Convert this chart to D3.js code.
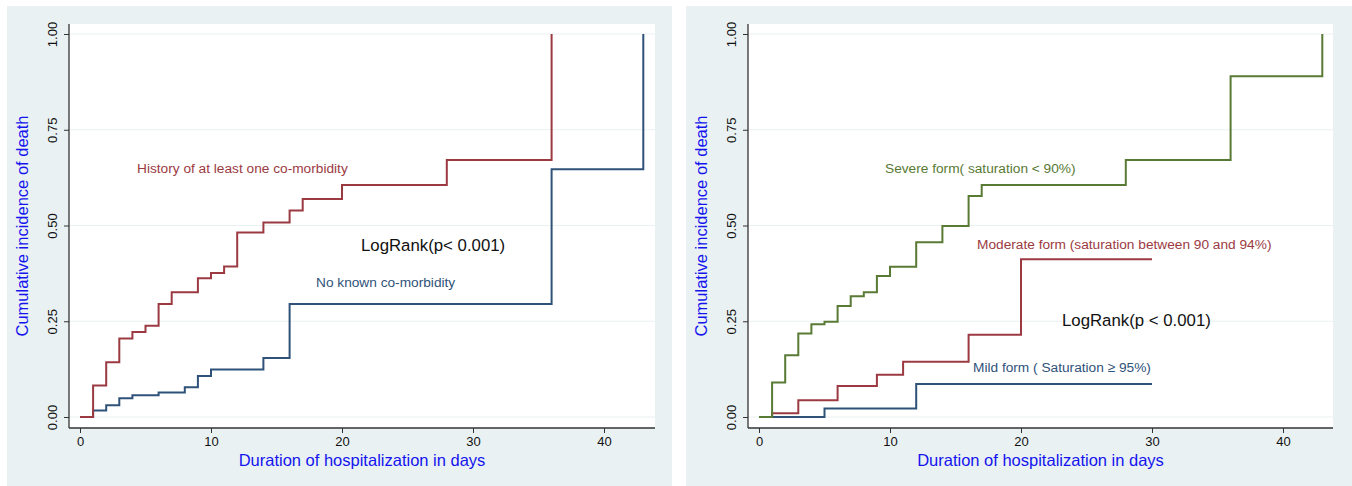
<!DOCTYPE html>
<html>
<head>
<meta charset="utf-8">
<script src="https://cdn.jsdelivr.net/npm/d3@7"></script>
<style>
  body { margin: 0; background: #fff; }
  text { font-family: "Liberation Sans", Arial, sans-serif; }
</style>
</head>
<body>
<svg width="1352" height="486"></svg>
<script>
// left panel: co-morbidity
const comorbidDays = [0, 1, 2, 3, 4, 5, 6, 7, 9, 10, 11, 12, 14, 16, 17, 20, 28, 36];
const comorbidInc = [0, 0.082, 0.143, 0.205, 0.222, 0.238, 0.295, 0.326, 0.362, 0.376, 0.393, 0.482, 0.508, 0.539, 0.569, 0.606, 0.671, 1.0];
const noComorbidDays = [0, 1, 2, 3, 4, 6, 8, 9, 10, 14, 16, 36, 43];
const noComorbidInc = [0, 0.017, 0.031, 0.049, 0.057, 0.064, 0.078, 0.107, 0.124, 0.154, 0.295, 0.647, 1.0];

// right panel: severity
const mildDays = [0, 5, 12, 30];
const mildInc = [0, 0.022, 0.086, 0.086];
const moderateDays = [0, 1, 3, 6, 9, 11, 16, 20, 30];
const moderateInc = [0, 0.010, 0.044, 0.081, 0.110, 0.144, 0.215, 0.412, 0.412];
const severeDays = [0, 1, 2, 3, 4, 5, 6, 7, 8, 9, 10, 12, 14, 16, 17, 28, 36, 43];
const severeInc = [0, 0.090, 0.161, 0.218, 0.242, 0.249, 0.290, 0.315, 0.326, 0.368, 0.392, 0.456, 0.499, 0.577, 0.606, 0.671, 0.890, 1.0];

const xTicks = [0, 10, 20, 30, 40];
const yTicks = [0, 0.25, 0.5, 0.75, 1];
const xTitle = "Duration of hospitalization in days";
const yTitle = "Cumulative incidence of death";

const RED = "#9c3a42", BLUE = "#2f5279", GREEN = "#587a34";

const svg = d3.select("svg");

function drawPanel(p) {
    const g = svg.append("g");

    g.append("rect")
        .attr("x", p.bg[0]).attr("y", 6)
        .attr("width", p.bg[1] - p.bg[0]).attr("height", 480)
        .attr("fill", "#eaf1f3");

    g.append("rect")
        .attr("x", p.left).attr("y", 24)
        .attr("width", p.right - p.left).attr("height", 404)
        .attr("fill", "#fff");

    const x = d3.scaleLinear().domain([0, 40]).range([p.x0, p.x0 + 40 * 13.1]);
    const y = d3.scaleLinear().domain([0, 1]).range([417, 34]);

    // grid
    g.selectAll(".grid")
        .data(yTicks)
        .enter().append("line")
        .attr("x1", p.left).attr("x2", p.right)
        .attr("y1", d => y(d)).attr("y2", d => y(d))
        .attr("stroke", "#eaf1f3").attr("stroke-width", 1.2);

    const xAxis = g.append("g")
        .attr("transform", "translate(0,428)")
        .call(d3.axisBottom(x).tickValues(xTicks).tickSize(5).tickPadding(4).tickSizeOuter(0));
    xAxis.select(".domain").attr("d", `M${p.left},0H${p.right}`).attr("stroke", "#333").attr("stroke-width", 1.3);
    xAxis.selectAll(".tick line").attr("stroke", "#333");
    xAxis.selectAll("text").attr("font-size", 13).attr("fill", "#111")
        .attr("font-family", "Liberation Sans, Arial, sans-serif");

    const yAxis = g.append("g")
        .attr("transform", `translate(${p.left},0)`)
        .call(d3.axisLeft(y).tickValues(yTicks).tickFormat(d3.format(".2f")).tickSize(5).tickSizeOuter(0));
    yAxis.select(".domain").attr("d", `M0,24V428`).attr("stroke", "#333").attr("stroke-width", 1.3);
    yAxis.selectAll(".tick line").attr("stroke", "#333");
    yAxis.selectAll("text")
        .attr("font-size", 13).attr("fill", "#111")
        .attr("font-family", "Liberation Sans, Arial, sans-serif")
        .attr("x", 0).attr("dy", 0)
        .attr("text-anchor", "middle")
        .attr("transform", "translate(-12,0) rotate(-90)");

    const line = d3.line()
        .x(d => x(d[0]))
        .y(d => y(d[1]))
        .curve(d3.curveStepAfter);

    p.series.forEach(s => {
        g.append("path")
            .datum(d3.zip(s.days, s.inc))
            .attr("fill", "none")
            .attr("stroke", s.color)
            .attr("stroke-width", 2)
            .attr("d", line);
    });

    p.labels.forEach(l => {
        g.append("text")
            .attr("x", l.x).attr("y", l.y)
            .attr("font-size", l.size)
            .attr("fill", l.color)
            .attr("dominant-baseline", "middle")
            .text(l.text);
    });

    g.append("text")
        .attr("x", (p.left + p.right) / 2).attr("y", 462)
        .attr("text-anchor", "middle").attr("dominant-baseline", "middle")
        .attr("font-size", 16.5).attr("fill", "#1414ee")
        .text(xTitle);

    g.append("text")
        .attr("transform", `translate(${p.left - 45},${(24 + 428) / 2}) rotate(-90)`)
        .attr("text-anchor", "middle").attr("dominant-baseline", "middle")
        .attr("font-size", 16.5).attr("fill", "#1414ee")
        .text(yTitle);
}

drawPanel({
    bg: [7, 672], left: 69, right: 655, x0: 80,
    series: [
        {days: noComorbidDays, inc: noComorbidInc, color: BLUE},
        {days: comorbidDays, inc: comorbidInc, color: RED}
    ],
    labels: [
        {text: "History of at least one co-morbidity", x: 137, y: 169, size: 13.7, color: RED},
        {text: "LogRank(p< 0.001)", x: 361, y: 247, size: 16.8, color: "#111"},
        {text: "No known co-morbidity", x: 316, y: 283, size: 13.7, color: BLUE}
    ]
});

drawPanel({
    bg: [686, 1352], left: 748, right: 1333, x0: 759,
    series: [
        {days: mildDays, inc: mildInc, color: BLUE},
        {days: moderateDays, inc: moderateInc, color: RED},
        {days: severeDays, inc: severeInc, color: GREEN}
    ],
    labels: [
        {text: "Severe form( saturation < 90%)", x: 885, y: 169, size: 13.7, color: GREEN},
        {text: "Moderate form (saturation between 90 and 94%)", x: 977, y: 245, size: 13.7, color: RED},
        {text: "LogRank(p < 0.001)", x: 1062, y: 322, size: 16.8, color: "#111"},
        {text: "Mild form ( Saturation \u2265 95%)", x: 973, y: 368, size: 13.7, color: BLUE}
    ]
});
</script>
</body>
</html>
